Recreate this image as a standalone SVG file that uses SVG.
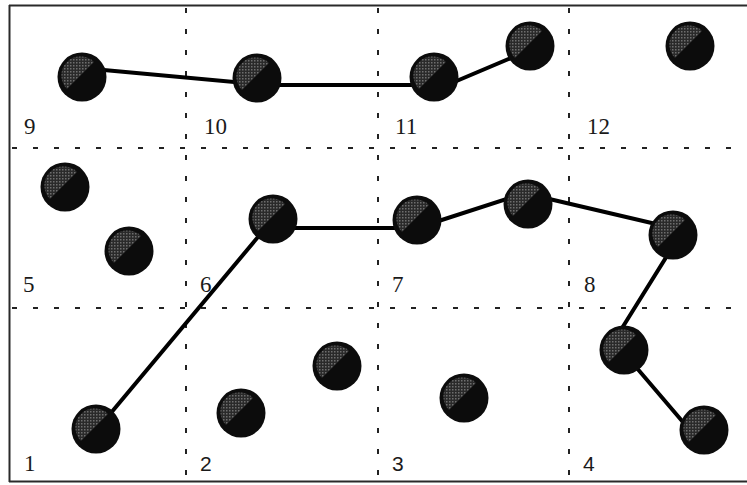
<svg xmlns="http://www.w3.org/2000/svg" xmlns:xlink="http://www.w3.org/1999/xlink" width="747" height="485" viewBox="0 0 747 485">
<style>
.frame{stroke:#2a2a2a;stroke-width:2;fill:none}
.grid{stroke:#222;stroke-width:2;stroke-dasharray:5 16;fill:none}
.conn{stroke:#000;stroke-width:4;fill:none;stroke-linecap:round}
.lbl{font-family:"Liberation Serif","Times New Roman",serif;font-size:23px;fill:#1a1a1a}
.lbls{font-family:"Liberation Sans",Arial,sans-serif;font-size:21px;fill:#1a1a1a}
</style>
<defs>
<pattern id="hatch" width="3" height="3" patternUnits="userSpaceOnUse">
<rect width="3" height="3" fill="#2a2a2a"/>
<rect width="1.5" height="1.5" fill="#6e6e6e"/>
</pattern>
<g id="ball">
<circle r="24.5" fill="#0c0c0c"/>
<path d="M-15 12 A19 19 0 0 1 12 -15 Z" fill="url(#hatch)"/>
</g>
</defs>
<rect width="747" height="485" fill="#fff"/>
<g id="frame">
<line class="frame" x1="9" y1="5.5" x2="747" y2="5.5"/>
<line class="frame" x1="9.5" y1="5" x2="9.5" y2="482"/>
<line class="frame" x1="9" y1="481.5" x2="747" y2="481.5"/>
<line class="grid" x1="186" y1="8" x2="186" y2="481"/>
<line class="grid" x1="378" y1="8" x2="378" y2="481"/>
<line class="grid" x1="569" y1="8" x2="569" y2="481"/>
<line class="grid" x1="12" y1="148" x2="747" y2="148"/>
<line class="grid" x1="12" y1="308" x2="747" y2="308"/>
</g>
<g id="labels">
<text class="lbl" x="24" y="134">9</text>
<text class="lbl" x="204" y="134">10</text>
<text class="lbl" x="395" y="134">11</text>
<text class="lbl" x="587" y="134">12</text>
<text class="lbl" x="23" y="292">5</text>
<text class="lbl" x="200" y="292">6</text>
<text class="lbl" x="392" y="292">7</text>
<text class="lbl" x="584" y="292">8</text>
<text class="lbl" x="24" y="471">1</text>
<text class="lbls" x="200" y="471">2</text>
<text class="lbls" x="392" y="471">3</text>
<text class="lbls" x="583" y="471">4</text>
</g>
<g id="connectors">
<line class="conn" x1="82" y1="68" x2="257" y2="84"/>
<line class="conn" x1="257" y1="85" x2="434" y2="85"/>
<line class="conn" x1="440" y1="88" x2="530" y2="50"/>
<line class="conn" x1="95" y1="432" x2="268" y2="225"/>
<line class="conn" x1="273" y1="228" x2="417" y2="228"/>
<line class="conn" x1="417" y1="228" x2="528" y2="192"/>
<line class="conn" x1="528" y1="194" x2="673" y2="228"/>
<line class="conn" x1="680" y1="235" x2="609" y2="349"/>
<line class="conn" x1="624" y1="353" x2="700" y2="442"/>
</g>
<g id="n9"><use xlink:href="#ball" x="82" y="77"/></g>
<g id="n10"><use xlink:href="#ball" x="257" y="78"/></g>
<g id="n11a"><use xlink:href="#ball" x="434" y="77"/></g>
<g id="n11b"><use xlink:href="#ball" x="530" y="46"/></g>
<g id="n12"><use xlink:href="#ball" x="690" y="46"/></g>
<g id="n5a"><use xlink:href="#ball" x="65" y="187"/></g>
<g id="n5b"><use xlink:href="#ball" x="129" y="251"/></g>
<g id="n6"><use xlink:href="#ball" x="273" y="219"/></g>
<g id="n7a"><use xlink:href="#ball" x="417" y="220"/></g>
<g id="n7b"><use xlink:href="#ball" x="528" y="204"/></g>
<g id="n8"><use xlink:href="#ball" x="673" y="235"/></g>
<g id="n1"><use xlink:href="#ball" x="96" y="429"/></g>
<g id="n2a"><use xlink:href="#ball" x="241" y="413"/></g>
<g id="n2b"><use xlink:href="#ball" x="337" y="366"/></g>
<g id="n3"><use xlink:href="#ball" x="464" y="398"/></g>
<g id="n4a"><use xlink:href="#ball" x="624" y="350"/></g>
<g id="n4b"><use xlink:href="#ball" x="704" y="430"/></g>
</svg>
